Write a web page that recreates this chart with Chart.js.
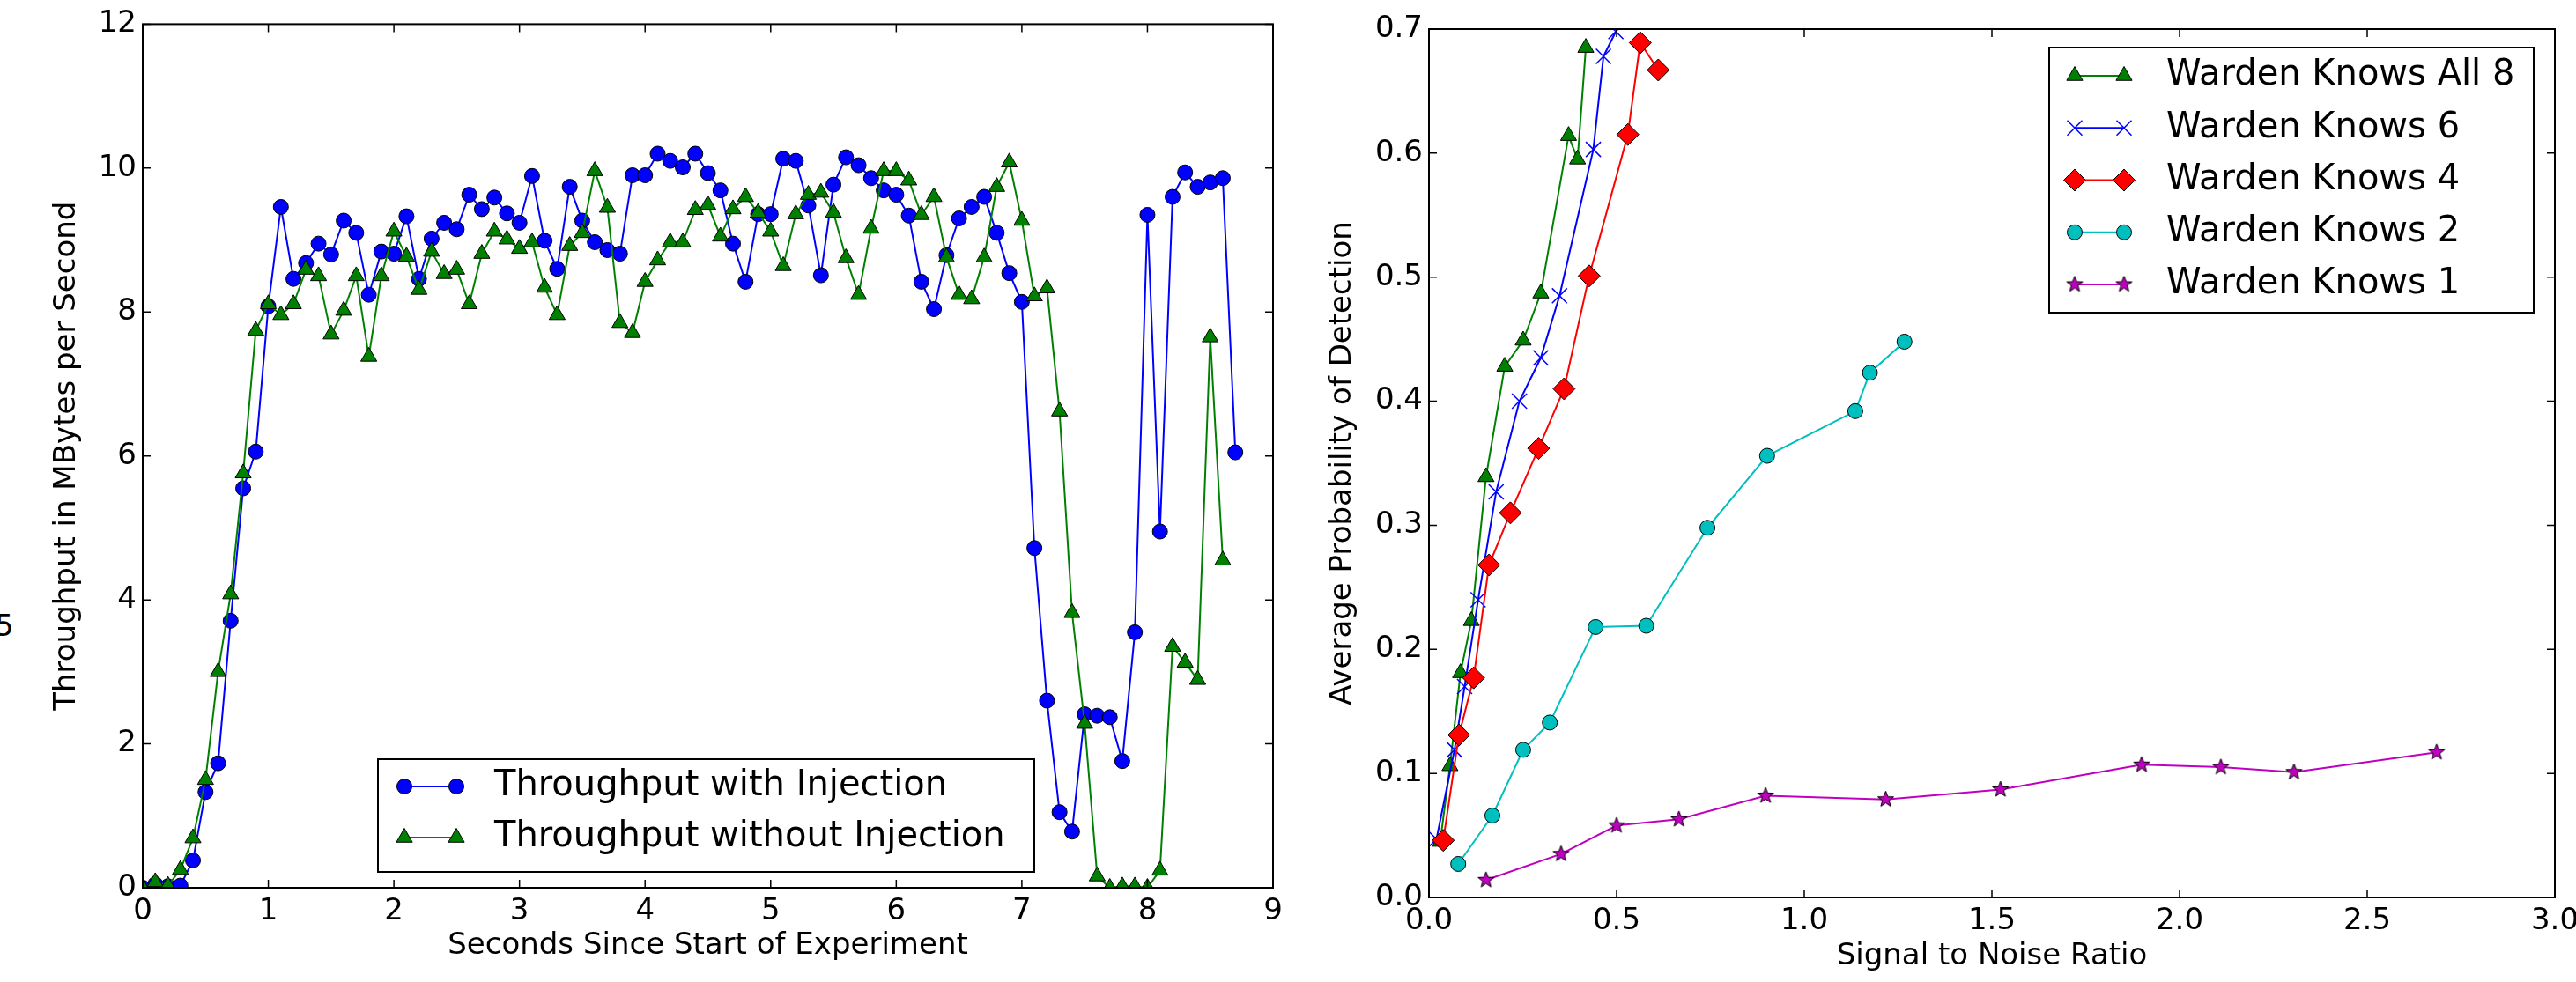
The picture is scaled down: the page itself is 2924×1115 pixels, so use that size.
<!DOCTYPE html>
<html lang="en">
<head>
    <meta charset="UTF-8">
    <title>Throughput and detection</title>
    <script src="https://cdn.jsdelivr.net/npm/chart.js"></script>
    <style>
        body { margin: 0; background: #fff; overflow: hidden; width: 2924px; height: 1115px; position: relative; }
        .box { position: absolute; top: 0; }
        .stray { position: absolute; left: -6px; top: 693px; font: 34px/34px "DejaVu Sans"; color: #000; }
    </style>
</head>
<body>
<div class="stray">5</div>
<div class="box" style="left: 0; width: 1480px; height: 1115px;">
    <canvas id="throughput" width="1480" height="1115"></canvas>
</div>
<div class="box" style="left: 1480px; width: 1520px; height: 1115px;">
    <canvas id="detection" width="1520" height="1115"></canvas>
</div>

<script>
    // left chart: seconds since start of experiment
    const timeWith = [0.0, 0.1, 0.2, 0.3, 0.4, 0.5, 0.6, 0.7, 0.8, 0.9,
        1.0, 1.1, 1.2, 1.3, 1.4, 1.5, 1.6, 1.7, 1.8, 1.9,
        2.0, 2.1, 2.2, 2.3, 2.4, 2.5, 2.6, 2.7, 2.8, 2.9,
        3.0, 3.1, 3.2, 3.3, 3.4, 3.5, 3.6, 3.7, 3.8, 3.9,
        4.0, 4.1, 4.2, 4.3, 4.4, 4.5, 4.6, 4.7, 4.8, 4.9,
        5.0, 5.1, 5.2, 5.3, 5.4, 5.5, 5.6, 5.7, 5.8, 5.9,
        6.0, 6.1, 6.2, 6.3, 6.4, 6.5, 6.6, 6.7, 6.8, 6.9,
        7.0, 7.1, 7.2, 7.3, 7.4, 7.5, 7.6, 7.7, 7.8, 7.9,
        8.0, 8.1, 8.2, 8.3, 8.4, 8.5, 8.6, 8.7];
    const withInjection = [0, 0.05, 0.02, 0.03, 0.38, 1.33, 1.73, 3.71, 5.55, 6.06,
        8.08, 9.46, 8.46, 8.68, 8.95, 8.80, 9.27, 9.10, 8.24, 8.84,
        8.81, 9.33, 8.46, 9.02, 9.24, 9.15, 9.63, 9.43, 9.59, 9.37,
        9.24, 9.89, 8.99, 8.60, 9.74, 9.27, 8.97, 8.86, 8.81, 9.90,
        9.90, 10.2, 10.1, 10.01, 10.2, 9.93, 9.69, 8.95, 8.42, 9.36,
        9.36, 10.13, 10.10, 9.48, 8.51, 9.77, 10.15, 10.04, 9.86, 9.69,
        9.63, 9.34, 8.42, 8.04, 8.79, 9.30, 9.46, 9.60, 9.10, 8.54,
        8.14, 4.72, 2.60, 1.05, 0.78, 2.41, 2.39, 2.37, 1.76, 3.55,
        9.35, 4.95, 9.60, 9.94, 9.74, 9.80, 9.86, 6.05];

    const timeWithout = [0.0, 0.1, 0.2, 0.3, 0.4, 0.5, 0.6, 0.7, 0.8, 0.9,
        1.0, 1.1, 1.2, 1.3, 1.4, 1.5, 1.6, 1.7, 1.8, 1.9,
        2.0, 2.1, 2.2, 2.3, 2.4, 2.5, 2.6, 2.7, 2.8, 2.9,
        3.0, 3.1, 3.2, 3.3, 3.4, 3.5, 3.6, 3.7, 3.8, 3.9,
        4.0, 4.1, 4.2, 4.3, 4.4, 4.5, 4.6, 4.7, 4.8, 4.9,
        5.0, 5.1, 5.2, 5.3, 5.4, 5.5, 5.6, 5.7, 5.8, 5.9,
        6.0, 6.1, 6.2, 6.3, 6.4, 6.5, 6.6, 6.7, 6.8, 6.9,
        7.0, 7.1, 7.2, 7.3, 7.4, 7.5, 7.6, 7.7, 7.8, 7.9,
        8.0, 8.1, 8.2, 8.3, 8.4, 8.5, 8.6];
    const withoutInjection = [0, 0.08, 0.03, 0.25, 0.69, 1.50, 3.0, 4.08, 5.76, 7.74,
        8.11, 7.96, 8.11, 8.59, 8.50, 7.69, 8.02, 8.50, 7.38, 8.50,
        9.12, 8.77, 8.31, 8.84, 8.53, 8.59, 8.11, 8.81, 9.12, 9.01,
        8.88, 8.97, 8.34, 7.96, 8.92, 9.10, 9.96, 9.45, 7.85, 7.71,
        8.42, 8.72, 8.97, 8.97, 9.42, 9.49, 9.05, 9.43, 9.60, 9.38,
        9.12, 8.64, 9.36, 9.63, 9.66, 9.38, 8.75, 8.24, 9.16, 9.96,
        9.96, 9.83, 9.35, 9.60, 8.76, 8.24, 8.18, 8.76, 9.74, 10.08,
        9.27, 8.22, 8.33, 6.62, 3.82, 2.28, 0.16, 0.0, 0.02, 0.02,
        0.0, 0.24, 3.35, 3.13, 2.89, 7.65, 4.55];

    // right chart: signal to noise ratio vs probability of detection
    const snrAll8 = [0.03, 0.056, 0.084, 0.113, 0.152, 0.202, 0.251, 0.298, 0.372, 0.396, 0.418];
    const detAll8 = [0.045, 0.106, 0.181, 0.223, 0.339, 0.428, 0.449, 0.487, 0.614, 0.595, 0.685];
    const snr6 = [0.02, 0.068, 0.095, 0.131, 0.179, 0.241, 0.298, 0.348, 0.438, 0.465, 0.498];
    const det6 = [0.047, 0.119, 0.170, 0.240, 0.327, 0.400, 0.435, 0.485, 0.603, 0.678, 0.698];
    const snr4 = [0.038, 0.080, 0.119, 0.160, 0.217, 0.292, 0.360, 0.427, 0.530, 0.563, 0.611];
    const det4 = [0.046, 0.131, 0.177, 0.268, 0.310, 0.362, 0.410, 0.501, 0.615, 0.689, 0.667];
    const snr2 = [0.078, 0.169, 0.251, 0.322, 0.444, 0.579, 0.742, 0.901, 1.136, 1.175, 1.267];
    const det2 = [0.027, 0.066, 0.119, 0.141, 0.218, 0.219, 0.298, 0.356, 0.392, 0.423, 0.448];
    const snr1 = [0.152, 0.352, 0.500, 0.666, 0.897, 1.217, 1.523, 1.899, 2.110, 2.305, 2.685];
    const det1 = [0.014, 0.035, 0.058, 0.063, 0.082, 0.079, 0.087, 0.107, 0.105, 0.101, 0.117];

    Chart.defaults.font.family = '"DejaVu Sans"';
    Chart.defaults.color = '#000';

    const pts = (xs, ys) => xs.map((x, i) => ({x: x, y: ys[i]}));

    function starImage(r, fill) {
        const c = document.createElement('canvas');
        c.width = c.height = 2 * r + 4;
        const g = c.getContext('2d');
        g.translate(r + 2, r + 2);
        g.beginPath();
        for (let i = 0; i < 10; i++) {
            const rr = i % 2 ? r * 0.42 : r;
            const a = -Math.PI / 2 + i * Math.PI / 5;
            g.lineTo(rr * Math.cos(a), rr * Math.sin(a));
        }
        g.closePath();
        g.fillStyle = fill;
        g.fill();
        g.lineWidth = 1;
        g.strokeStyle = '#000';
        g.stroke();
        return c;
    }

    // frame round the plot area, ticks pointing inwards on all four sides
    const frameTicks = {
        id: 'frameTicks',
        afterDraw(chart) {
            const {ctx, chartArea: a} = chart;
            const xs = chart.scales.x, ys = chart.scales.y;
            const L = 9;
            ctx.save();
            ctx.strokeStyle = '#000';
            ctx.lineWidth = 1.5;
            ctx.beginPath();
            xs.ticks.forEach(t => {
                const p = xs.getPixelForValue(t.value);
                ctx.moveTo(p, a.bottom); ctx.lineTo(p, a.bottom - L);
                ctx.moveTo(p, a.top); ctx.lineTo(p, a.top + L);
            });
            ys.ticks.forEach(t => {
                const p = ys.getPixelForValue(t.value);
                ctx.moveTo(a.left, p); ctx.lineTo(a.left + L, p);
                ctx.moveTo(a.right, p); ctx.lineTo(a.right - L, p);
            });
            ctx.stroke();
            ctx.lineWidth = 2;
            ctx.strokeRect(a.left, a.top, a.right - a.left, a.bottom - a.top);
            ctx.restore();
        }
    };

    // framed legend like the matplotlib one
    const boxLegend = {
        id: 'boxLegend',
        afterDatasetsDraw(chart, args, o) {
            const ctx = chart.ctx;
            ctx.save();
            ctx.fillStyle = '#fff';
            ctx.fillRect(o.x, o.y, o.w, o.h);
            ctx.lineWidth = 2;
            ctx.strokeStyle = '#000';
            ctx.strokeRect(o.x, o.y, o.w, o.h);
            chart.data.datasets.forEach((ds, i) => {
                const y = o.rowY + i * o.rowStep;
                ctx.strokeStyle = ds.borderColor;
                ctx.lineWidth = ds.borderWidth;
                ctx.beginPath();
                ctx.moveTo(o.markX[0], y);
                ctx.lineTo(o.markX[1], y);
                ctx.stroke();
                o.markX.forEach(mx => {
                    ctx.fillStyle = ds.pointBackgroundColor;
                    ctx.strokeStyle = ds.pointBorderColor;
                    ctx.lineWidth = ds.pointBorderWidth;
                    Chart.helpers.drawPoint(ctx, {
                        pointStyle: ds.pointStyle, radius: ds.pointRadius,
                        rotation: 0, borderWidth: ds.pointBorderWidth
                    }, mx, y);
                });
                ctx.fillStyle = '#000';
                ctx.font = o.fontSize + 'px "DejaVu Sans"';
                ctx.textBaseline = 'middle';
                ctx.textAlign = 'left';
                ctx.fillText(ds.label, o.textX, y);
            });
            ctx.restore();
        }
    };

    function series(label, data, color, style, radius, i, n, extra) {
        return Object.assign({
            label: label,
            data: data,
            borderColor: color,
            borderWidth: 2,
            pointStyle: style,
            pointRadius: radius,
            pointHoverRadius: radius,
            pointBackgroundColor: color,
            pointBorderColor: '#000',
            pointBorderWidth: 1,
            fill: false,
            order: n - i
        }, extra || {});
    }

    function axis(min, max, step, title, fit, titlePad, fmt) {
        return {
            type: 'linear',
            min: min,
            max: max,
            grid: {display: false, drawTicks: false},
            border: {display: false},
            ticks: {
                stepSize: step,
                padding: 7,
                font: {size: 34},
                callback: fmt
            },
            title: {display: true, text: title, font: {size: 34}, padding: titlePad},
            afterFit: fit
        };
    }

    new Chart(document.getElementById('throughput'), {
        type: 'line',
        data: {
            datasets: [
                series('Throughput with Injection', pts(timeWith, withInjection), '#0000ff', 'circle', 8.5, 0, 2),
                series('Throughput without Injection', pts(timeWithout, withoutInjection), '#008000', 'triangle', 10.5, 1, 2)
            ]
        },
        options: {
            responsive: false,
            animation: false,
            layout: {padding: {top: 27, right: 35, left: 0, bottom: 0}},
            scales: {
                x: axis(0, 9, 1, 'Seconds Since Start of Experiment', s => { s.height = 107; },
                    {top: 0, bottom: 20}, v => String(v)),
                y: axis(0, 12, 2, 'Throughput in MBytes per Second', s => { s.width = 162; },
                    {top: 56, bottom: 0}, v => String(v))
            },
            plugins: {
                legend: {display: false},
                tooltip: {enabled: false},
                boxLegend: {
                    x: 429, y: 862, w: 745, h: 128,
                    rowY: 893, rowStep: 58,
                    markX: [459, 518], textX: 561, fontSize: 40
                }
            }
        },
        plugins: [boxLegend, frameTicks]
    });

    const star = starImage(9.5, '#bf00bf');

    new Chart(document.getElementById('detection'), {
        type: 'line',
        data: {
            datasets: [
                series('Warden Knows All 8', pts(snrAll8, detAll8), '#008000', 'triangle', 10.5, 0, 5),
                series('Warden Knows 6', pts(snr6, det6), '#0000ff', 'crossRot', 12, 1, 5,
                    {pointBorderColor: '#0000ff', pointBorderWidth: 1.5}),
                series('Warden Knows 4', pts(snr4, det4), '#ff0000', 'rectRot', 12.5, 2, 5),
                series('Warden Knows 2', pts(snr2, det2), '#00bfbf', 'circle', 8.5, 3, 5),
                series('Warden Knows 1', pts(snr1, det1), '#bf00bf', star, 9.5, 4, 5)
            ]
        },
        options: {
            responsive: false,
            animation: false,
            layout: {padding: {top: 33, right: 100, left: 0, bottom: 0}},
            scales: {
                x: axis(0, 3, 0.5, 'Signal to Noise Ratio', s => { s.height = 96; },
                    {top: 0, bottom: 8}, v => v.toFixed(1)),
                y: axis(0, 0.7, 0.1, 'Average Probability of Detection', s => { s.width = 142; },
                    {top: 24, bottom: 0}, v => v.toFixed(1))
            },
            plugins: {
                legend: {display: false},
                tooltip: {enabled: false},
                boxLegend: {
                    x: 846, y: 54, w: 550, h: 301,
                    rowY: 86, rowStep: 59.25,
                    markX: [875, 931], textX: 979, fontSize: 40
                }
            }
        },
        plugins: [boxLegend, frameTicks]
    });
</script>
</body>
</html>
